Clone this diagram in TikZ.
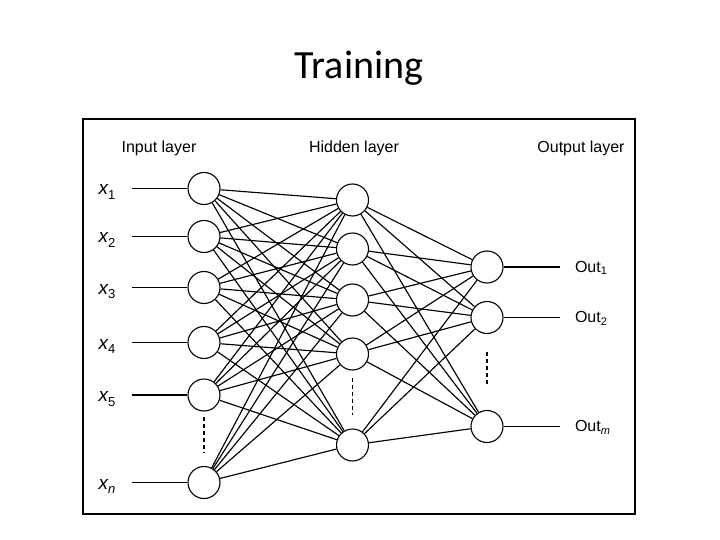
\documentclass[tikz,border=0pt]{standalone}
\usepackage{fontspec}
\setmainfont{Liberation Sans}
\newfontfamily\titlefont{Carlito}
\usetikzlibrary{positioning}
\tikzset{
  neuron/.style={
    draw,
    circle,
    minimum size=32pt,
    inner sep=0pt,
    line width=1.1pt
  },
  link/.style={
    line width=1.15pt
  },
  layerlabel/.style={
    anchor=base,
    font=\fontsize{16}{16}\selectfont
  },
  inlabel/.style={
    anchor=base west,
    font=\fontsize{19}{19}\selectfont
  },
  outlabel/.style={
    anchor=base west,
    font=\fontsize{16}{16}\selectfont
  },
  vdots/.style={
    line width=1.2pt,
    dash pattern=on 4pt off 3pt
  }
}
\newcommand{\xin}[1]{\textit{x}\kern-0.5pt\raisebox{-0.45ex}{\fontsize{13}{13}\selectfont #1}}
\newcommand{\xout}[1]{Out\raisebox{-0.35ex}{\fontsize{11}{11}\selectfont #1}}

\begin{document}
\begin{tikzpicture}[x=1pt, y=-1pt]
  \useasboundingbox (0,0) rectangle (720,540);

  % Titre
  \node[anchor=base, font=\titlefont\fontsize{40}{40}\selectfont] (title) at (359,79) {Training};

  % Cadre
  \draw[line width=1.8pt] (83,119) rectangle (635,514);

  % Couches
  \node[layerlabel] (inlayer) at (159,153) {Input layer};
  \node[layerlabel] (hidlayer) at (354,153) {Hidden layer};
  \node[layerlabel] (outlayer) at (581,153) {Output layer};

  % Entrees
  \node[neuron] (i1) at (204,188.5) {};
  \node[neuron] (i2) at (204,236.5) {};
  \node[neuron] (i3) at (204,287.5) {};
  \node[neuron] (i4) at (204,342.5) {};
  \node[neuron] (i5) at (204,395) {};
  \node[neuron] (in) at (204,482.5) {};
  \coordinate (d1a) at (204,417);
  \coordinate (d1b) at (204,453);
  \draw[vdots] (d1a) -- (d1b);

  \node[inlabel] (x1) at (95,195) {\xin{1}};
  \node[inlabel] (x2) at (95,243) {\xin{2}};
  \node[inlabel] (x3) at (95,294) {\xin{3}};
  \node[inlabel] (x4) at (95,349) {\xin{4}};
  \node[inlabel] (x5) at (95,401.5) {\xin{5}};
  \node[inlabel] (xn) at (95,489) {\xin{\textit{n}}};

  \foreach \k in {1,2,3,4,5,n} {
    \coordinate (s\k) at (131.7,0 |- i\k);
    \draw[link] (s\k) -- (i\k);
  }

  % Couche cachee
  \node[neuron] (h1) at (352.5,200) {};
  \node[neuron] (h2) at (352.5,249) {};
  \node[neuron] (h3) at (352.5,300) {};
  \node[neuron] (h4) at (352.5,354) {};
  \node[neuron] (h5) at (352.5,445) {};
  \coordinate (d2a) at (352.5,378);
  \coordinate (d2b) at (352.5,415);
  \draw[vdots] (d2a) -- (d2b);

  % Sorties
  \node[neuron] (o1) at (487,267) {};
  \node[neuron] (o2) at (487,317.5) {};
  \node[neuron] (om) at (487,426.5) {};
  \coordinate (d3a) at (487,352);
  \coordinate (d3b) at (487,386);
  \draw[vdots] (d3a) -- (d3b);

  \foreach \k in {1,2,m} {
    \coordinate (e\k) at (560,0 |- o\k);
    \draw[link] (o\k) -- (e\k);
  }
  \node[outlabel] (out1) at (571.5,272) {\xout{1}};
  \node[outlabel] (out2) at (571.5,322.5) {\xout{2}};
  \node[outlabel] (outm) at (571.5,431.5) {\xout{\textit{m}}};

  % Liaisons
  \foreach \a in {1,2,3,4,5,n}
    \foreach \b in {1,...,5}
      \draw[link] (i\a) -- (h\b);
  \foreach \a in {1,...,5}
    \foreach \b in {1,2,m}
      \draw[link] (h\a) -- (o\b);
\end{tikzpicture}
\end{document}
